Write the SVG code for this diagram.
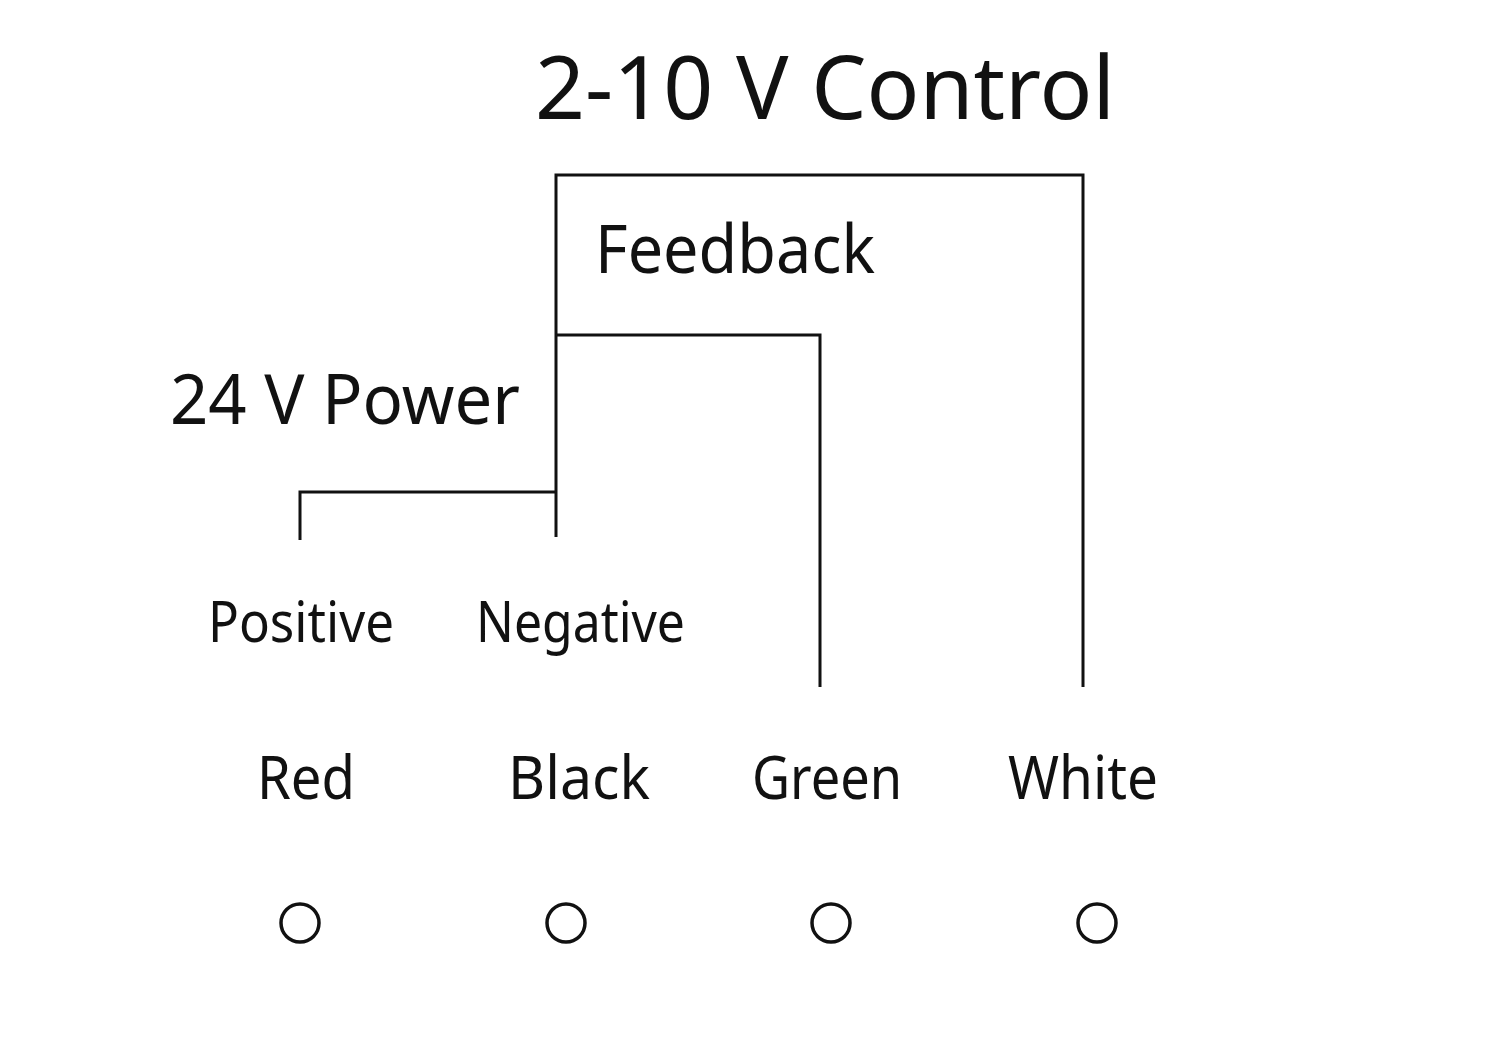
<svg xmlns="http://www.w3.org/2000/svg" width="1509" height="1042" viewBox="0 0 1509 1042">
<style>
text{font-family:"Noto Sans","DejaVu Sans",sans-serif;fill:#111}
.w{fill:none;stroke:#111;stroke-width:3}
.t{fill:none;stroke:#111;stroke-width:3.5}
</style>
<rect width="1509" height="1042" fill="#fff"/>
<g id="connectors">
<path class="w" d="M300,540V492H556"/>
<path class="w" d="M556,537V175H1083V687"/>
<path class="w" d="M556,335H820V687"/>
</g>
<g id="title"><text x="535" y="119" font-size="88" textLength="580" lengthAdjust="spacingAndGlyphs">2-10 V Control</text></g>
<g id="feedback"><text x="595" y="273" font-size="68" textLength="280" lengthAdjust="spacingAndGlyphs">Feedback</text></g>
<g id="power"><text x="170" y="424" font-size="70" textLength="350" lengthAdjust="spacingAndGlyphs">24 V Power</text></g>
<g id="positive"><text x="208" y="642" font-size="56" textLength="186" lengthAdjust="spacingAndGlyphs">Positive</text></g>
<g id="negative"><text x="476" y="642" font-size="56" textLength="209" lengthAdjust="spacingAndGlyphs">Negative</text></g>
<g id="red"><text x="257" y="799" font-size="60" textLength="98" lengthAdjust="spacingAndGlyphs">Red</text><circle class="t" cx="300" cy="923" r="19"/></g>
<g id="black"><text x="508" y="799" font-size="60" textLength="142" lengthAdjust="spacingAndGlyphs">Black</text><circle class="t" cx="566" cy="923" r="19"/></g>
<g id="green"><text x="752" y="799" font-size="60" textLength="150" lengthAdjust="spacingAndGlyphs">Green</text><circle class="t" cx="831" cy="923" r="19"/></g>
<g id="white"><text x="1008" y="799" font-size="60" textLength="150" lengthAdjust="spacingAndGlyphs">White</text><circle class="t" cx="1097" cy="923" r="19"/></g>
</svg>
